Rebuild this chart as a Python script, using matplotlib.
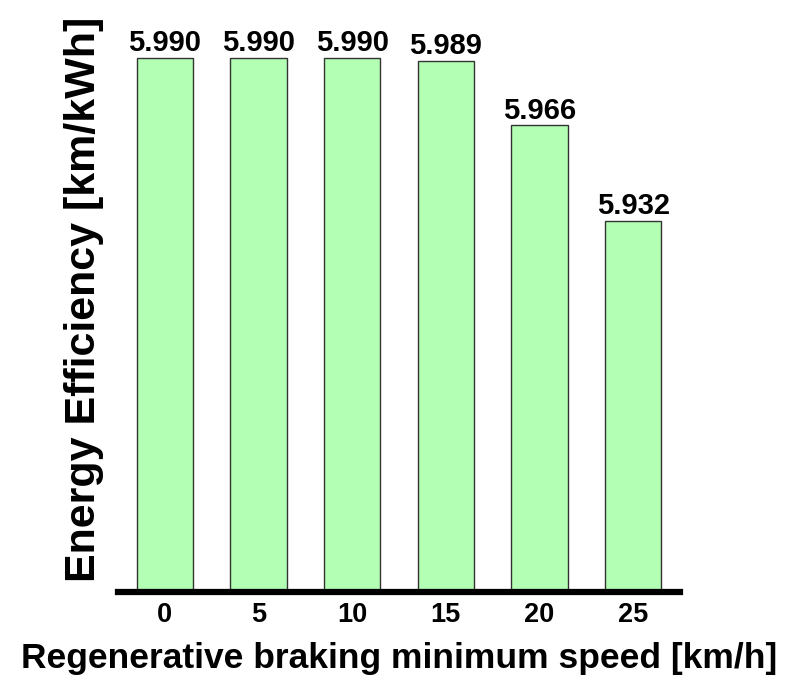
import matplotlib.pyplot as plt

# Data
speeds = ["0", "5", "10", "15", "20", "25"]
efficiency = [5.990, 5.990, 5.990, 5.989, 5.966, 5.932]
value_labels = ["5.990", "5.990", "5.990", "5.989", "5.966", "5.932"]

plt.rcParams['font.family'] = ['Liberation Sans', 'DejaVu Sans']
plt.rcParams['font.weight'] = 'bold'

fig = plt.figure(figsize=(8, 6.95), dpi=100, facecolor='white')
ax = fig.add_axes([0.1475, 0.148, 0.7025, 0.809])

x = list(range(len(speeds)))
ax.bar(x, efficiency, width=0.6, color='#b3ffb3', edgecolor='#333333', linewidth=1.0, zorder=2)
for xi, v, t in zip(x, efficiency, value_labels):
    ax.text(xi, v + 0.0003, t, ha='center', va='bottom', fontsize=21, fontweight='bold')

ax.set_xlim(-0.5, 5.5)
ax.set_ylim(5.80, 6.0)
ax.set_xticks(x)
ax.set_xticklabels(speeds, fontsize=19.5, fontweight='bold')
ax.set_yticks([])

for s in ['top', 'right', 'left']:
    ax.spines[s].set_visible(False)
ax.spines['bottom'].set_linewidth(4.5)
ax.spines['bottom'].set_zorder(3)
ax.tick_params(axis='x', direction='in', length=5, width=3, pad=7)

ax.set_xlabel("Regenerative braking minimum speed [km/h]", fontsize=25.5, fontweight='bold', labelpad=10)
ax.set_ylabel("Energy Efficiency [km/kWh]", fontsize=31, fontweight='bold')
ax.yaxis.set_label_coords(-0.025, 0.52)

plt.savefig('out.png', dpi=100, facecolor='white')
